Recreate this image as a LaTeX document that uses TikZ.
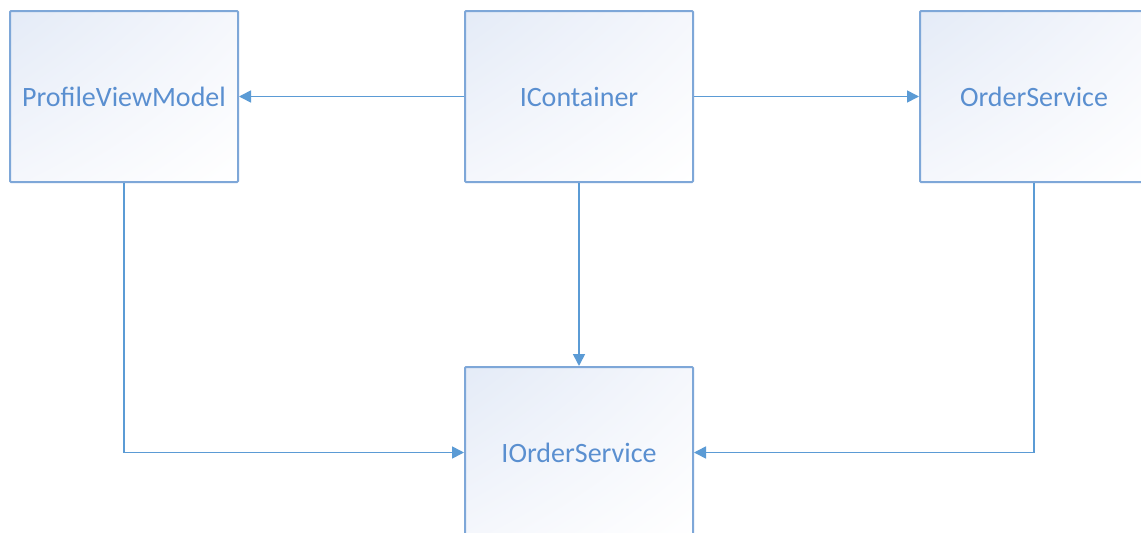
\documentclass[tikz,border=0pt]{standalone}
\usepackage{fontspec}
\setmainfont{Carlito}
\usetikzlibrary{arrows.meta,shadings}
\definecolor{lineblue}{HTML}{5B9BD5}
\definecolor{boxborder}{HTML}{7EA7D8}
\definecolor{txtblue}{HTML}{5A8FD0}
\definecolor{shadeA}{HTML}{E4EBF7}
\definecolor{shadeB}{HTML}{F5F7FC}
\tikzset{
  x=1pt, y=-1pt,
  classbox/.style={draw=boxborder, line width=2pt, rounded corners=1pt,
    minimum width=228pt, minimum height=171pt, inner sep=0pt,
    upper left=shadeA, upper right=shadeB, lower left=shadeB, lower right=white,
    text=txtblue, font=\fontsize{28}{32}\selectfont},
  conn/.style={draw=lineblue, line width=1.6pt,
    -{Triangle[length=12pt,width=12pt]}}
}
\begin{document}
\begin{tikzpicture}
\useasboundingbox (0,0) rectangle (1141,533);
\clip (0,0) rectangle (1141,533);
\fill[white] (0,0) rectangle (1141,533);
\node[classbox] (pvm) at (124,96.5) {ProfileViewModel};
\node[classbox] (ic) at (579,96.5) {IContainer};
\node[classbox] (os) at (1034,96.5) {OrderService};
\node[classbox] (ios) at (579,452.5) {IOrderService};
\draw[conn] (ic.west) -- (pvm.east);
\draw[conn] (ic.east) -- (os.west);
\draw[conn] (ic.south) -- (ios.north);
\draw[conn] (pvm.south) |- (ios.west);
\draw[conn] (os.south) |- (ios.east);
\end{tikzpicture}
\end{document}
